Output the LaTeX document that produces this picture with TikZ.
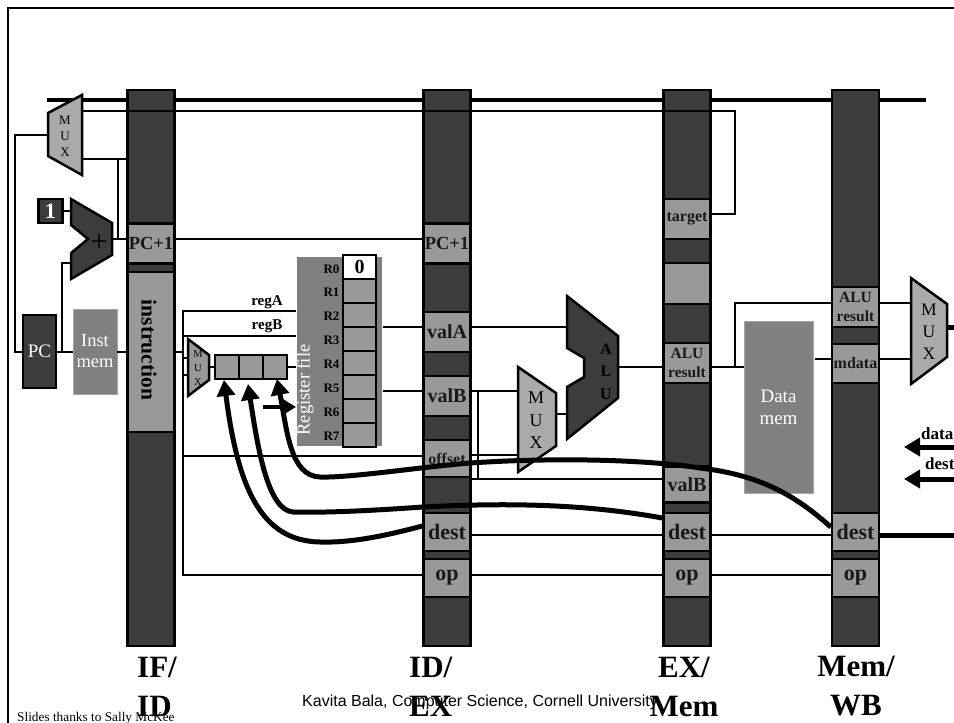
\documentclass[tikz,border=0pt]{standalone}
\usepackage{fontspec}
\setmainfont{Liberation Serif}
\newfontfamily\sansfoot{Liberation Sans}
\usetikzlibrary{arrows.meta}

\definecolor{darkreg}{HTML}{3C3C3C}
\definecolor{cellgray}{HTML}{999999}
\definecolor{muxgray}{HTML}{AAAAAA}
\definecolor{memgray}{HTML}{808080}

\tikzset{
    wire/.style={black, line width=2pt},
    fat/.style={black, line width=5pt},
    bar/.style={draw=black, line width=2.5pt, fill=darkreg, minimum width=47pt, minimum height=556pt, inner sep=0pt},
    cell/.style={draw=black, line width=2.5pt, fill=cellgray, minimum width=47pt, inner sep=0pt, font=\bfseries\fontsize{20}{20}\selectfont, text=black!90},
    tiny/.style={font=\bfseries\fontsize{16}{16}\selectfont},
    big/.style={font=\bfseries\fontsize{22}{22}\selectfont},
    alures/.style={align=center, font=\bfseries\fontsize{15.5}{19}\selectfont},
    regcell/.style={draw=black, line width=2.5pt, fill=cellgray, minimum width=33pt, minimum height=24pt, inner sep=0pt},
    reglabel/.style={font=\bfseries\fontsize{13}{13}\selectfont, inner sep=0pt},
    mux/.style={draw=black, line width=2.5pt, fill=muxgray, line join=miter},
    adder/.style={draw=black, line width=2.5pt, fill=darkreg, line join=miter},
    mem/.style={fill=memgray, draw=black!35, line width=.5pt, inner sep=0pt, text=white, align=center},
    head/.style={font=\bfseries\fontsize{31}{39}\selectfont, inner sep=0pt},
    fatarrow/.style={fat, -{Triangle[length=16pt, width=18pt]}}
}

\begin{document}
\begin{tikzpicture}[x=1pt, y=-1pt]

    \useasboundingbox (0,0) rectangle (954,723);
    \fill[white] (0,0) rectangle (954,723);

    \coordinate (frameA) at (954,8);
    \coordinate (frameB) at (8,8);
    \coordinate (frameC) at (8,723);
    \draw[wire] (frameA) -- (frameB) -- (frameC);

    % bus runs behind the registers
    \coordinate (busL) at (47,100);
    \coordinate (busR) at (926,100);
    \draw[black, line width=4.5pt] (busL) -- (busR);

    \node[bar] (ifid) at (151,368) {};
    \node[bar] (idex) at (447,368) {};
    \node[bar] (exmem) at (687,368) {};
    \node[bar] (memwb) at (855.5,368) {};

    % IF/ID
    \node[cell, minimum height=40pt, font=\bfseries\fontsize{18.5}{18.5}\selectfont] (ifpc) at (151,243.5) {PC+1};
    \node[cell, minimum height=160pt] (ifinst) at (151,352) {};
    \node[rotate=-90, font=\bfseries\fontsize{21.5}{21.5}\selectfont, inner sep=0pt] (insttxt) at (149,350) {instruction};

    % ID/EX
    \node[cell, minimum height=40pt, font=\bfseries\fontsize{18.5}{18.5}\selectfont] (idpc) at (447,243.5) {PC+1};
    \node[cell, minimum height=40pt] (idvalA) at (447,332) {valA};
    \node[cell, minimum height=40pt] (idvalB) at (447,396) {valB};
    \node[cell, tiny, minimum height=37pt] (idoff) at (447,458.5) {offset};
    \node[cell, big, minimum height=38pt] (iddest) at (447,532) {dest};
    \node[cell, big, minimum height=38pt] (idop) at (447,578) {op};

    % EX/Mem
    \node[cell, tiny, minimum height=40pt] (extarget) at (687,219) {target};
    \node[cell, minimum height=41pt] (exblank) at (687,283.5) {};
    \node[cell, alures, minimum height=40pt] (exalu) at (687,363) {ALU\\result};
    \node[cell, minimum height=36pt] (exvalB) at (687,484.5) {valB};
    \node[cell, big, minimum height=38pt] (exdest) at (687,532) {dest};
    \node[cell, big, minimum height=38pt] (exop) at (687,578) {op};

    % Mem/WB
    \node[cell, alures, minimum height=40pt] (wbalu) at (855.5,307) {ALU\\result};
    \node[cell, tiny, minimum height=39pt] (wbdata) at (855.5,363.5) {mdata};
    \node[cell, big, minimum height=38pt] (wbdest) at (855.5,532) {dest};
    \node[cell, big, minimum height=38pt] (wbop) at (855.5,578) {op};

    % fetch side
    \node[draw=black, line width=2.5pt, fill=darkreg, text=white, minimum width=33pt, minimum height=73pt, inner sep=0pt, font=\fontsize{19}{19}\selectfont] (pc) at (39.5,351.5) {PC};
    \node[mem, minimum width=44pt, minimum height=85pt, font=\fontsize{18.5}{21}\selectfont] (imem) at (95,351.5) {Inst\\mem};
    \node[draw=black, line width=2.5pt, fill=darkreg, text=white, minimum width=24pt, minimum height=24pt, inner sep=0pt, font=\bfseries\fontsize{22}{22}\selectfont] (one) at (50.5,211) {1};

    \draw[mux] (48,113) -- (82,95) -- (82,175) -- (48,156) -- cycle;
    \node[align=center, inner sep=0pt, font=\fontsize{13}{16}\selectfont] (pcmux) at (65,136) {M\\U\\X};
    \coordinate (pcmuxL) at (48,135);
    \coordinate (pcmuxR) at (82,159);
    \coordinate (pcmuxT) at (82,111);

    \draw[adder] (71,199) -- (112,223) -- (112,255) -- (71,279) -- (71,253) -- (88,239) -- (71,225) -- cycle;
    \node[inner sep=0pt, font=\fontsize{30}{30}\selectfont] (plus) at (99,243) {+};
    \coordinate (addout) at (112,239);
    \coordinate (addA) at (71,211);
    \coordinate (addB) at (71,263);
    \coordinate (pcsplit) at (62,351.5);
    \coordinate (leftrun) at (15,135);
    \coordinate (trgrun) at (735,111);
    \coordinate (trgout) at (735,214);
    \coordinate (nextsplit) at (118,159);
    \coordinate (addsplit) at (118,239);

    \draw[wire] (pcmuxL) -- (leftrun) -- (leftrun |- pc.west) -- (pc.west);
    \draw[wire] (pc.east) -- (imem.west);
    \draw[wire] (imem.east) -- (ifid.west |- imem.east);
    \draw[wire] (pcsplit) -- (pcsplit |- addB) -- (addB);
    \draw[wire] (one.east) -- (addA);
    \draw[wire] (addout) -- (ifpc.west |- addout);
    \draw[wire] (addsplit) -- (nextsplit);
    \draw[wire] (pcmuxR) -- (ifid.west |- pcmuxR);
    \draw[wire] (pcmuxT) -- (trgrun) -- (trgout) -- (extarget.east |- trgout);
    \draw[wire] (ifpc.east |- addout) -- (idpc.west |- addout);

    % decode side
    \coordinate (rundown) at (183,311);
    \coordinate (regAend) at (296,311);
    \coordinate (regBend) at (296,336);
    \coordinate (offrun) at (183,456);
    \coordinate (oprun) at (183,575);
    \coordinate (instout) at (183,351.5);
    \draw[wire] (regAend) -- (rundown) -- (oprun) -- (idop.west |- oprun);
    \draw[wire] (regBend) -- (regBend -| rundown);
    \draw[wire] (offrun) -- (idoff.west |- offrun);
    \draw[wire] (ifinst.east |- instout) -- (instout);
    \node[font=\bfseries\fontsize{15}{15}\selectfont, inner sep=0pt] (regAtxt) at (267,302) {regA};
    \node[font=\bfseries\fontsize{15}{15}\selectfont, inner sep=0pt] (regBtxt) at (267,326) {regB};

    \draw[mux, fill=cellgray] (188,339) -- (209,355) -- (209,380) -- (188,396) -- cycle;
    \node[align=center, inner sep=0pt, font=\fontsize{10.5}{14}\selectfont] (regmux) at (198,368) {M\\U\\X};
    \coordinate (regmuxA) at (188,358);
    \coordinate (regmuxB) at (188,375);
    \coordinate (regmuxR) at (209,367);
    \draw[wire] (rundown |- regmuxA) -- (regmuxA);
    \draw[wire] (rundown |- regmuxB) -- (regmuxB);

    \node[regcell, minimum width=24pt, minimum height=24pt] (selA) at (227,367) {};
    \node[regcell, minimum width=24pt, minimum height=24pt] (selB) at (251,367) {};
    \node[regcell, minimum width=24pt, minimum height=24pt] (selC) at (275,367) {};
    \draw[wire] (regmuxR) -- (selA.west);
    \coordinate (selend) at (296,367);
    \draw[wire] (selC.east) -- (selend);

    \node[fill=memgray, minimum width=85pt, minimum height=189pt, inner sep=0pt] (regfile) at (339.5,351.5) {};
    \node[rotate=90, text=white, inner sep=0pt, font=\fontsize{18.5}{18.5}\selectfont] (regtxt) at (305,390) {Register file};

    \node[regcell, fill=white, font=\bfseries\fontsize{20}{20}\selectfont] (R0) at (359.5,267) {0};
    \node[regcell] (R1) at (359.5,291) {};
    \node[regcell] (R2) at (359.5,315) {};
    \node[regcell] (R3) at (359.5,339) {};
    \node[regcell] (R4) at (359.5,363) {};
    \node[regcell] (R5) at (359.5,387) {};
    \node[regcell] (R6) at (359.5,411) {};
    \node[regcell] (R7) at (359.5,435) {};

    \node[reglabel] (R0txt) at (331.5,269) {R0};
    \node[reglabel] (R1txt) at (331.5,292) {R1};
    \node[reglabel] (R2txt) at (331.5,316) {R2};
    \node[reglabel] (R3txt) at (331.5,340) {R3};
    \node[reglabel] (R4txt) at (331.5,364) {R4};
    \node[reglabel] (R5txt) at (331.5,388) {R5};
    \node[reglabel] (R6txt) at (331.5,412) {R6};
    \node[reglabel] (R7txt) at (331.5,436) {R7};

    \coordinate (valAout) at (383,327);
    \coordinate (valBout) at (383,391);
    \draw[wire] (valAout) -- (idvalA.west |- valAout);
    \draw[wire] (valBout) -- (idvalB.west |- valBout);

    \coordinate (wrfrom) at (263,407);
    \coordinate (wrto) at (296,407);
    \draw[black, line width=4.5pt, -{Triangle[length=14pt, width=16pt]}] (wrfrom) -- (wrto);

    % execute side
    \draw[mux] (518,367) -- (556,393) -- (556,446) -- (518,472) -- cycle;
    \node[align=center, inner sep=0pt, font=\fontsize{18}{22.5}\selectfont] (alumux) at (536,420.5) {M\\U\\X};
    \draw[adder] (567,296) -- (618,336) -- (618,398) -- (567,439) -- (567,387) -- (584,377) -- (584,358) -- (567,348) -- cycle;
    \node[align=center, inner sep=0pt, font=\bfseries\fontsize{16}{22.5}\selectfont] (alu) at (606,371.5) {A\\L\\U};

    \coordinate (aluA) at (567,327);
    \coordinate (aluB) at (567,414);
    \coordinate (aluout) at (618,367);
    \coordinate (muxA) at (518,391);
    \coordinate (muxB) at (518,455);
    \coordinate (muxout) at (556,414);
    \coordinate (valBrun) at (478,391);
    \coordinate (valBdown) at (478,479);
    \draw[wire] (idvalA.east |- aluA) -- (aluA);
    \draw[wire] (idvalB.east |- muxA) -- (muxA);
    \draw[wire] (idoff.east |- muxB) -- (muxB);
    \draw[wire] (valBrun) -- (valBdown);
    \draw[wire] (idoff.east |- valBdown) -- (exvalB.west |- valBdown);
    \draw[wire] (muxout) -- (aluB);
    \draw[wire] (aluout) -- (exalu.west |- aluout);
    \draw[wire] (iddest.east |- 0,535) -- (exdest.west |- 0,535);
    \draw[wire] (idop.east |- 0,575) -- (exop.west |- 0,575);

    % memory side
    \node[mem, minimum width=69pt, minimum height=172pt, font=\fontsize{19}{22}\selectfont] (dmem) at (778.5,407) {Data\\mem};
    \coordinate (memrun) at (735,303);
    \coordinate (memin) at (735,367);
    \draw[wire] (exalu.east |- memin) -- (dmem.west |- memin);
    \draw[wire] (memin) -- (memrun) -- (wbalu.west |- memrun);
    \coordinate (dmemout) at (815,359);
    \draw[wire] (dmemout) -- (wbdata.west |- dmemout);
    \draw[wire] (exdest.east |- 0,535) -- (wbdest.west |- 0,535);
    \draw[wire] (exop.east |- 0,575) -- (wbop.west |- 0,575);

    % write back side
    \draw[mux] (911,278) -- (947,304) -- (947,357) -- (911,384) -- cycle;
    \node[align=center, inner sep=0pt, font=\fontsize{17.5}{22}\selectfont] (wbmux) at (929,331.5) {M\\U\\X};
    \coordinate (wbmuxA) at (911,303);
    \coordinate (wbmuxB) at (911,359);
    \coordinate (wbmuxR) at (947,327);
    \coordinate (edgeA) at (954,327);
    \coordinate (edgeB) at (954,535);
    \coordinate (edgeC) at (954,447);
    \coordinate (edgeD) at (954,479);
    \coordinate (tipC) at (904,447);
    \coordinate (tipD) at (904,479);
    \draw[wire] (wbalu.east |- wbmuxA) -- (wbmuxA);
    \draw[wire] (wbdata.east |- wbmuxB) -- (wbmuxB);
    \draw[fat] (wbmuxR) -- (edgeA);
    \draw[fat] (wbdest.east |- edgeB) -- (edgeB);
    \draw[fatarrow] (edgeC) -- (tipC);
    \draw[fatarrow] (edgeD) -- (tipD);
    \node[anchor=west, inner sep=0pt, font=\bfseries\fontsize{17}{17}\selectfont] (datatxt) at (921,434) {data};
    \node[anchor=west, inner sep=0pt, font=\bfseries\fontsize{17}{17}\selectfont] (desttxt) at (925,464) {dest};

    % forwarding curves
    \coordinate (selAtip) at (224,380);
    \coordinate (selBtip) at (248,384);
    \coordinate (selCtip) at (277,379);
    \draw[fatarrow] (iddest.west |- 0,526) .. controls (385,536) and (350,543) .. (320,542) .. controls (262,541) and (238,490) .. (selAtip);
    \draw[fatarrow] (exdest.west |- 0,518) .. controls (580,503) and (500,503) .. (423,507) .. controls (380,510) and (330,513) .. (293,512) .. controls (268,510) and (258,450) .. (selBtip);
    \draw[fatarrow] (wbdest.west |- 0,527) .. controls (795,495) and (760,475) .. (700,468) .. controls (650,460) and (560,457) .. (470,463) .. controls (420,467) and (350,478) .. (320,477) .. controls (290,476) and (287,430) .. (selCtip);

    % stage names and footers
    \node[anchor=west, inner sep=0pt, font=\sansfoot\fontsize{16}{16}\selectfont] (footmid) at (302,702) {Kavita Bala, Computer Science, Cornell University};
    \node[anchor=west, inner sep=0pt, font=\fontsize{13.3}{13.3}\selectfont] (footleft) at (17,718) {Slides thanks to Sally McKee};

    \node[head, align=left, anchor=west] (ifname) at (137,686.5) {IF/\\ID};
    \node[head, align=left, anchor=west] (idname) at (409,686.5) {ID/\\EX};
    \node[head, align=center] (exname) at (684,686.5) {EX/\\Mem};
    \node[head, align=center] (wbname) at (856,686.5) {Mem/\\WB};

\end{tikzpicture}
\end{document}
